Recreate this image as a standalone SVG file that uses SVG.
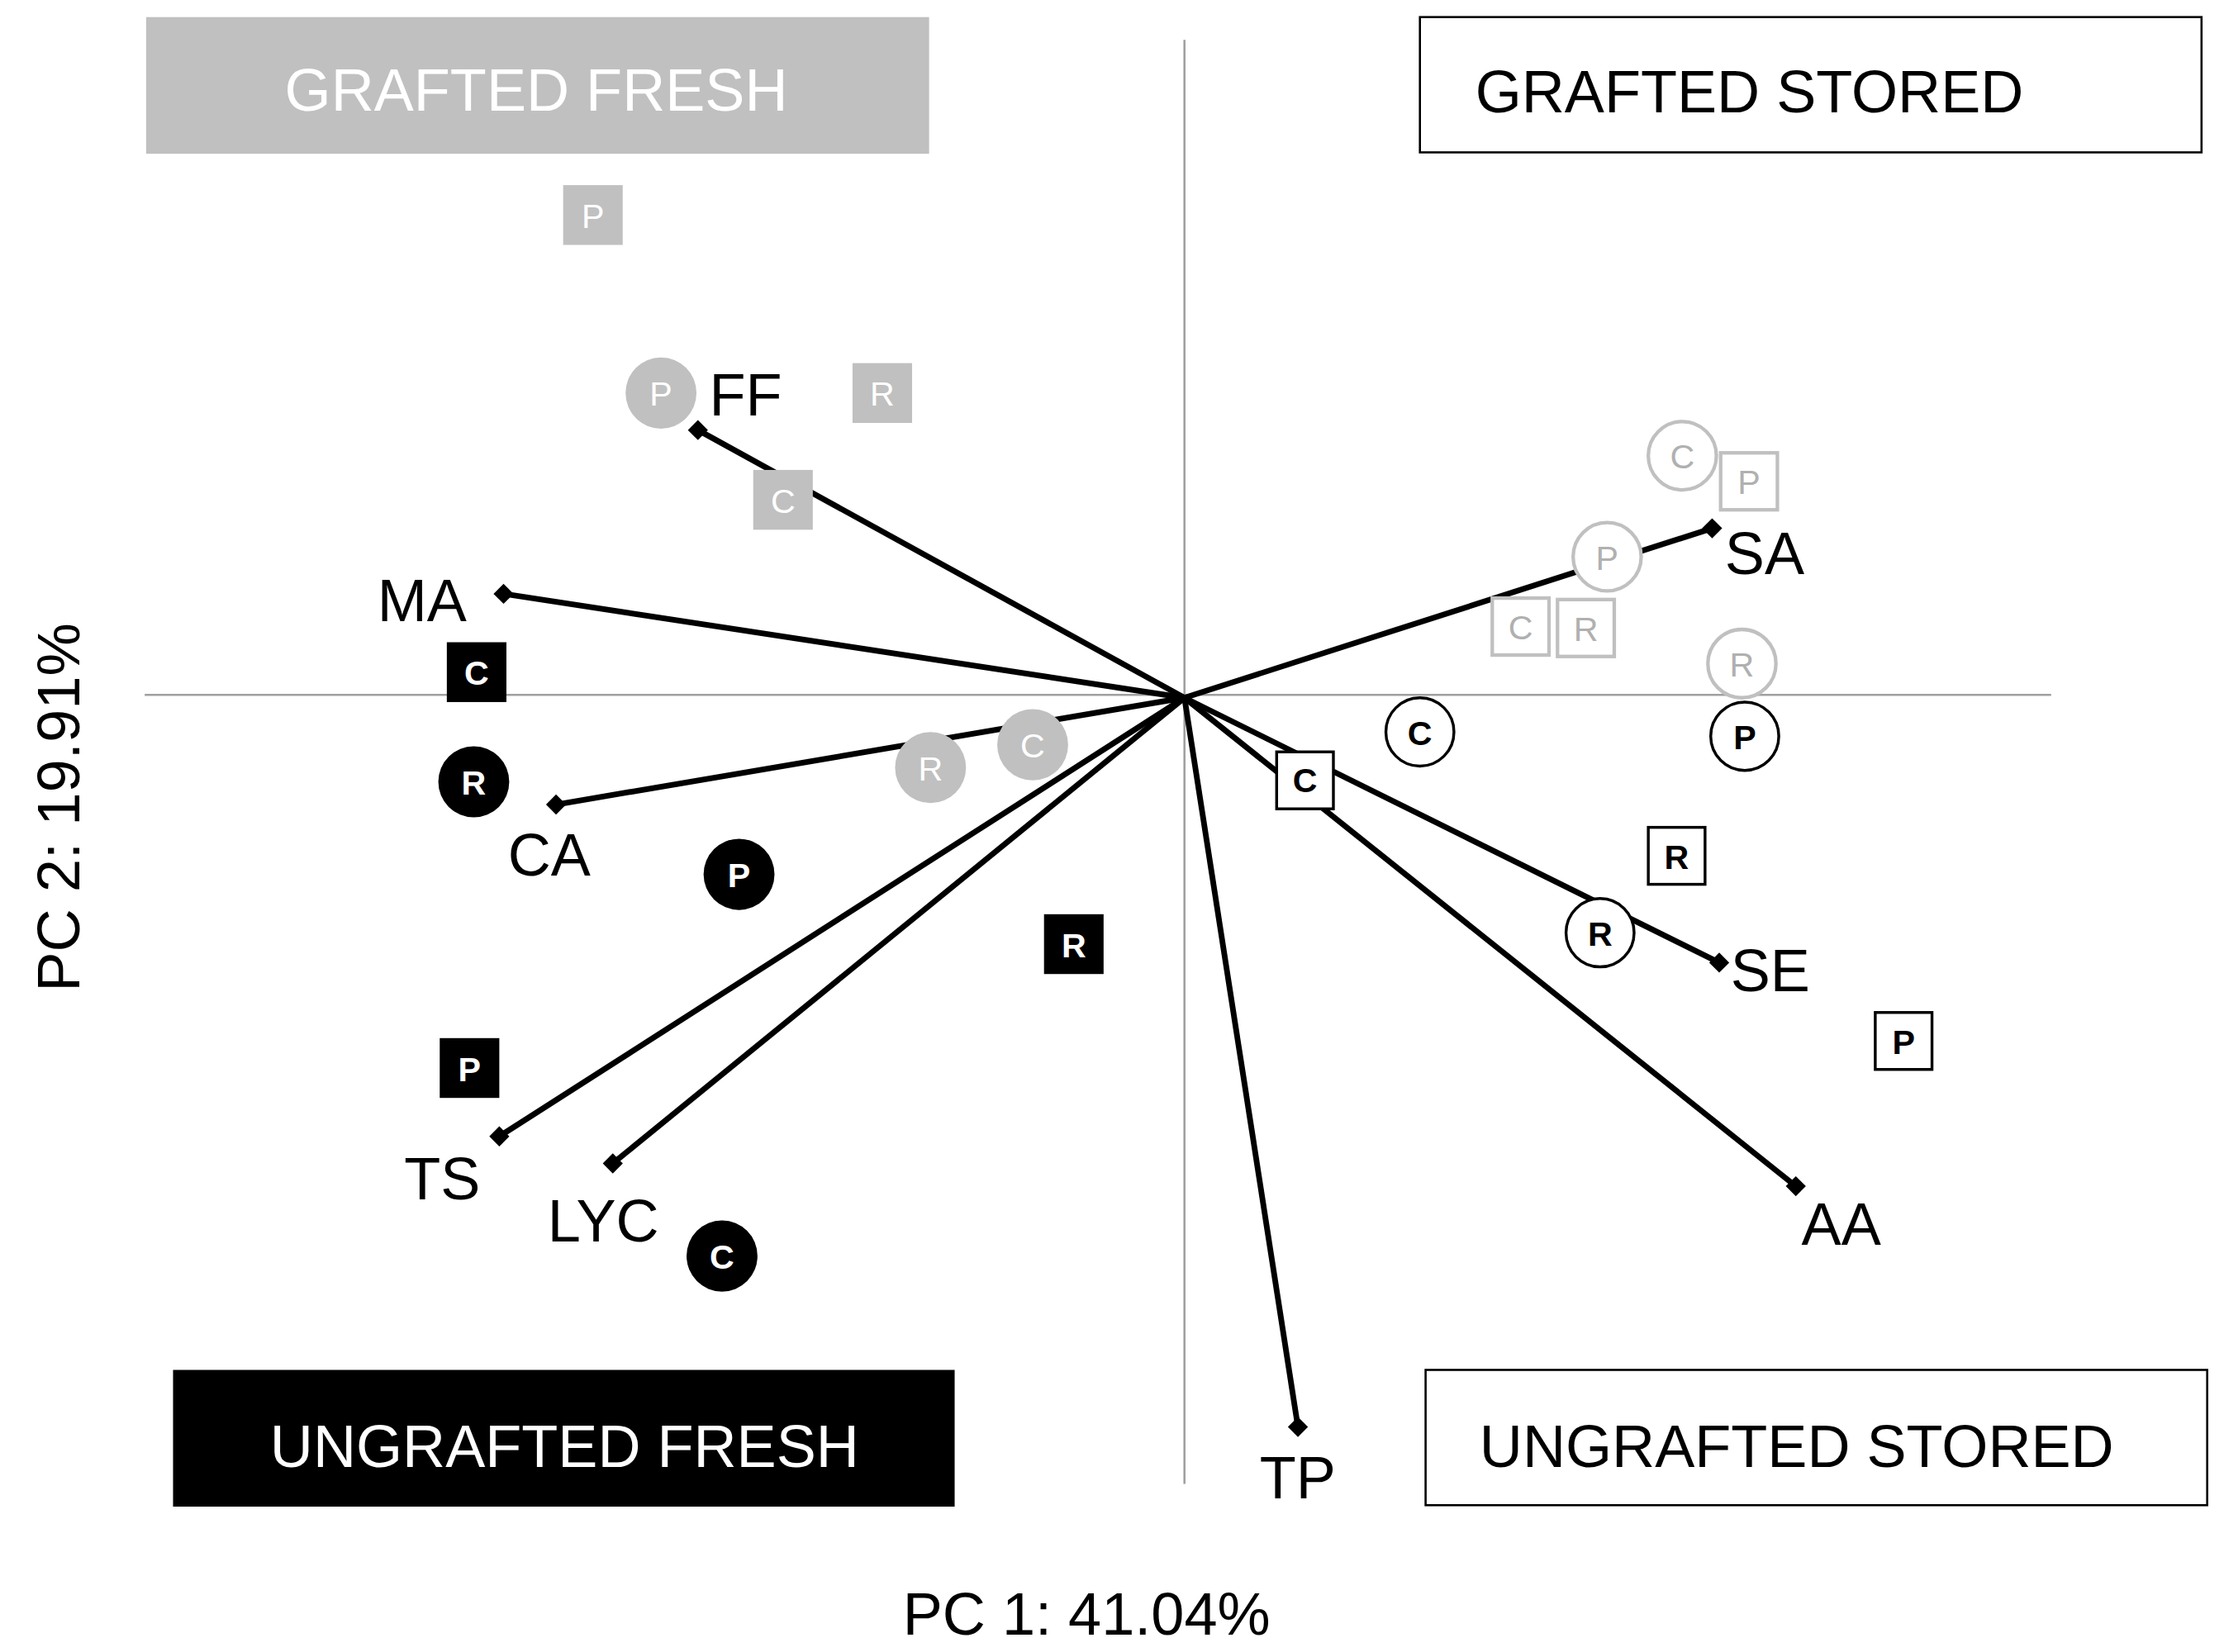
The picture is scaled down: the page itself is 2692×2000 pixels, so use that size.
<svg xmlns="http://www.w3.org/2000/svg" width="2692" height="2000" viewBox="0 0 2692 2000">
<style>
text{font-family:"Liberation Sans","Noto Sans",sans-serif}
.lab{font-size:42px;fill:#000}
.ax{stroke:#a0a0a0;stroke-width:1.5}
.vec{stroke:#000;stroke-width:4;fill:none}
.gf{fill:#c0c0c0}
.gft{fill:#fff;font-size:24px;text-anchor:middle}
.gs{fill:#fff;stroke:#c0c0c0;stroke-width:2.5}
.gst{fill:#b0b0b0;font-size:24px;text-anchor:middle}
.uf{fill:#000}
.uft{fill:#fff;font-size:24px;font-weight:bold;text-anchor:middle}
.us{fill:#fff;stroke:#000;stroke-width:2}
.ust{fill:#000;font-size:24px;font-weight:bold;text-anchor:middle}
.title{font-size:42px}
</style>
<rect width="2692" height="2000" fill="#fff"/>
<g transform="scale(1.717,1.724)">
<g id="axes">
<line class="ax" x1="835" y1="28" x2="835" y2="1042"/>
<line class="ax" x1="102" y1="488" x2="1446" y2="488"/>
<text x="766" y="1148" font-size="42" text-anchor="middle">PC 1: 41.04%</text>
<text transform="translate(56,567) rotate(-90)" font-size="42" text-anchor="middle">PC 2: 19.91%</text>
</g>
<g id="legend">
<g id="grafted-fresh"><rect x="103" y="12" width="552" height="96" fill="#c0c0c0"/><text class="title" x="378" y="78" text-anchor="middle" fill="#fff">GRAFTED FRESH</text></g>
<g id="grafted-stored"><rect x="1001" y="12" width="551" height="95" fill="#fff" stroke="#000" stroke-width="1.5"/><text class="title" x="1040" y="79">GRAFTED STORED</text></g>
<g id="ungrafted-fresh"><rect x="122" y="962" width="551" height="96" fill="#000"/><text class="title" x="398" y="1030" text-anchor="middle" fill="#fff">UNGRAFTED FRESH</text></g>
<g id="ungrafted-stored"><rect x="1005" y="962" width="551" height="95" fill="#fff" stroke="#000" stroke-width="1.5"/><text class="title" x="1043" y="1030">UNGRAFTED STORED</text></g>
</g>
<g id="connectors">
<line class="vec" x1="835" y1="490" x2="492" y2="302"/>
<line class="vec" x1="835" y1="490" x2="355" y2="417"/>
<line class="vec" x1="835" y1="490" x2="392" y2="565"/>
<line class="vec" x1="835" y1="490" x2="352" y2="798"/>
<line class="vec" x1="835" y1="490" x2="432" y2="817"/>
<line class="vec" x1="835" y1="490" x2="915" y2="1002"/>
<line class="vec" x1="835" y1="490" x2="1266" y2="833"/>
<line class="vec" x1="835" y1="490" x2="1212" y2="676"/>
<line class="vec" x1="835" y1="490" x2="1207" y2="371"/>
<g fill="#000">
<rect x="-5" y="-5" width="10" height="10" transform="translate(492,302) rotate(45)"/>
<rect x="-5" y="-5" width="10" height="10" transform="translate(355,417) rotate(45)"/>
<rect x="-5" y="-5" width="10" height="10" transform="translate(392,565) rotate(45)"/>
<rect x="-5" y="-5" width="10" height="10" transform="translate(352,798) rotate(45)"/>
<rect x="-5" y="-5" width="10" height="10" transform="translate(432,817) rotate(45)"/>
<rect x="-5" y="-5" width="10" height="10" transform="translate(915,1002) rotate(45)"/>
<rect x="-5" y="-5" width="10" height="10" transform="translate(1266,833) rotate(45)"/>
<rect x="-5" y="-5" width="10" height="10" transform="translate(1212,676) rotate(45)"/>
<rect x="-5" y="-5" width="10" height="10" transform="translate(1207,371) rotate(45)"/>
</g>
</g>
<g id="variables">
<text class="lab" x="500" y="292">FF</text>
<text class="lab" x="266" y="436">MA</text>
<text class="lab" x="358" y="615">CA</text>
<text class="lab" x="285" y="842">TS</text>
<text class="lab" x="386" y="872">LYC</text>
<text class="lab" x="888" y="1052">TP</text>
<text class="lab" x="1270" y="874">AA</text>
<text class="lab" x="1220" y="696">SE</text>
<text class="lab" x="1216" y="403">SA</text>
</g>
<g id="grafted-fresh-points">
<rect class="gf" x="397" y="130" width="42" height="42"/><text class="gft" x="418" y="160">P</text>
<circle class="gf" cx="466" cy="276" r="25"/><text class="gft" x="466" y="285">P</text>
<rect class="gf" x="601" y="255" width="42" height="42"/><text class="gft" x="622" y="285">R</text>
<rect class="gf" x="531" y="330" width="42" height="42"/><text class="gft" x="552" y="360">C</text>
<circle class="gf" cx="656" cy="539" r="25"/><text class="gft" x="656" y="548">R</text>
<circle class="gf" cx="728" cy="523" r="25"/><text class="gft" x="728" y="532">C</text>
</g>
<g id="grafted-stored-points">
<circle class="gs" cx="1186" cy="320" r="24"/><text class="gst" x="1186" y="329">C</text>
<rect class="gs" x="1213" y="318" width="40" height="40"/><text class="gst" x="1233" y="347">P</text>
<circle class="gs" cx="1133" cy="391" r="24"/><text class="gst" x="1133" y="400">P</text>
<rect class="gs" x="1052" y="420" width="40" height="40"/><text class="gst" x="1072" y="449">C</text>
<rect class="gs" x="1098" y="421" width="40" height="40"/><text class="gst" x="1118" y="450">R</text>
<circle class="gs" cx="1228" cy="466" r="24"/><text class="gst" x="1228" y="475">R</text>
</g>
<g id="ungrafted-fresh-points">
<rect class="uf" x="315" y="451" width="42" height="42"/><text class="uft" x="336" y="481">C</text>
<circle class="uf" cx="334" cy="549" r="25"/><text class="uft" x="334" y="558">R</text>
<circle class="uf" cx="521" cy="614" r="25"/><text class="uft" x="521" y="623">P</text>
<rect class="uf" x="736" y="642" width="42" height="42"/><text class="uft" x="757" y="672">R</text>
<rect class="uf" x="310" y="729" width="42" height="42"/><text class="uft" x="331" y="759">P</text>
<circle class="uf" cx="509" cy="882" r="25"/><text class="uft" x="509" y="891">C</text>
</g>
<g id="ungrafted-stored-points">
<circle class="us" cx="1001" cy="514" r="24"/><text class="ust" x="1001" y="523">C</text>
<circle class="us" cx="1230" cy="517" r="24"/><text class="ust" x="1230" y="526">P</text>
<rect class="us" x="900" y="528" width="40" height="40"/><text class="ust" x="920" y="556">C</text>
<rect class="us" x="1162" y="581" width="40" height="40"/><text class="ust" x="1182" y="610">R</text>
<circle class="us" cx="1128" cy="655" r="24"/><text class="ust" x="1128" y="664">R</text>
<rect class="us" x="1322" y="711" width="40" height="40"/><text class="ust" x="1342" y="740">P</text>
</g>
</g>
</svg>
